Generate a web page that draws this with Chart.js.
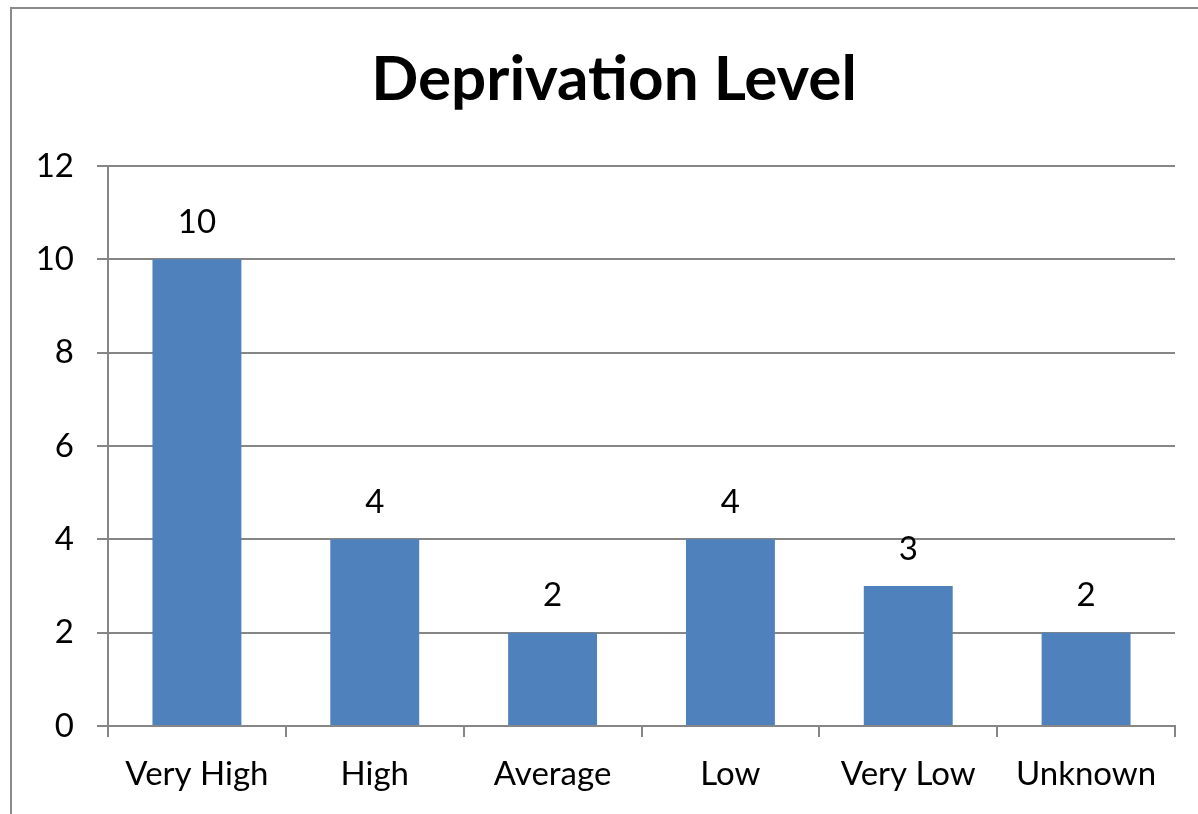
<!DOCTYPE html>
<html>
<head>
<meta charset="utf-8">
<script src="https://cdn.jsdelivr.net/npm/chart.js@4/dist/chart.umd.min.js"></script>
<style>
html,body{margin:0;padding:0;background:#fff;overflow:hidden;}
#wrap{position:relative;width:1198px;height:814px;}
#frame{position:absolute;left:10px;top:7px;width:1400px;height:1000px;border-left:2px solid #8a8a8a;border-top:2px solid #8a8a8a;pointer-events:none;}
canvas{position:absolute;left:0;top:0;}
</style>
</head>
<body>
<div id="wrap">
<canvas id="c" width="1198" height="814"></canvas>
<div id="frame"></div>
</div>
<script>
const chartTitle = "Deprivation Level";
const categories = ["Very High", "High", "Average", "Low", "Very Low", "Unknown"];
const values = [10, 4, 2, 4, 3, 2];
const yTicks = [0, 2, 4, 6, 8, 10, 12];

const FONT = "Lato, 'Open Sans', sans-serif";
const GRAY = "#868686";
const LABEL_SIZE = 33;

const titlePlugin = {
  id: 'customTitle',
  afterDraw(chart) {
    const ctx = chart.ctx;
    ctx.save();
    ctx.font = "bold 62px " + FONT;
    ctx.fillStyle = "#000";
    ctx.textAlign = "center";
    ctx.textBaseline = "middle";
    ctx.fillText(chartTitle, 614, 80);
    ctx.restore();
  }
};

const labelPlugin = {
  id: 'valueLabels',
  afterDatasetsDraw(chart) {
    const ctx = chart.ctx;
    const meta = chart.getDatasetMeta(0);
    ctx.save();
    ctx.font = LABEL_SIZE + "px " + FONT;
    ctx.fillStyle = "#000";
    ctx.textAlign = "center";
    ctx.textBaseline = "middle";
    meta.data.forEach((bar, i) => {
      ctx.fillText(String(values[i]), bar.x, bar.y - 37);
    });
    ctx.restore();
  }
};

new Chart(document.getElementById('c'), {
  type: 'bar',
  data: {
    labels: categories,
    datasets: [{
      data: values,
      backgroundColor: "#4F81BD",
      borderWidth: 0,
      barPercentage: 0.5,
      categoryPercentage: 1.0
    }]
  },
  options: {
    responsive: false,
    animation: false,
    devicePixelRatio: 1,
    layout: { padding: { top: 166, right: 23, bottom: 0, left: 0 } },
    plugins: {
      legend: { display: false },
      title: { display: false },
      tooltip: { enabled: false }
    },
    scales: {
      x: {
        afterFit(scale) { scale.height = 88; },
        grid: {
          offset: true,
          drawOnChartArea: false,
          drawTicks: true,
          tickLength: 11,
          color: GRAY,
          lineWidth: 2
        },
        border: { display: true, color: GRAY, width: 2 },
        ticks: {
          color: "#000",
          font: { family: FONT, size: LABEL_SIZE },
          padding: 18,
          maxRotation: 0,
          autoSkip: false
        }
      },
      y: {
        min: 0,
        max: 12,
        afterFit(scale) { scale.width = 108; },
        afterBuildTicks(scale) { scale.ticks = yTicks.map(v => ({ value: v })); },
        grid: {
          color: GRAY,
          lineWidth: 2,
          drawTicks: true,
          tickLength: 11
        },
        border: { display: true, color: GRAY, width: 2 },
        ticks: {
          color: "#000",
          font: { family: FONT, size: LABEL_SIZE },
          padding: 23
        }
      }
    }
  },
  plugins: [titlePlugin, labelPlugin]
});
</script>
</body>
</html>
